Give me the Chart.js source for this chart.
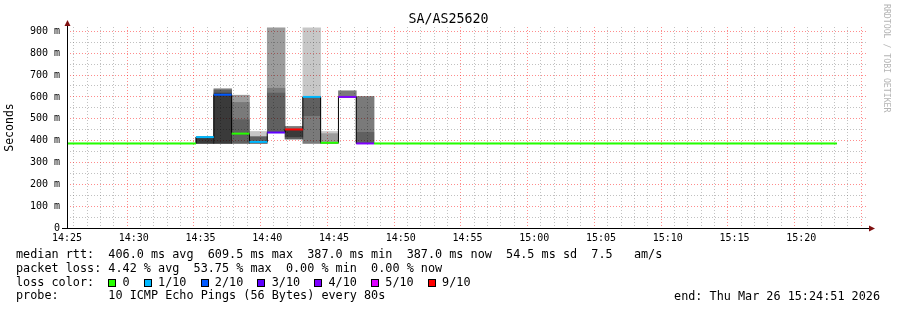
<!DOCTYPE html>
<html>
<head>
<meta charset="utf-8">
<script src="https://cdn.jsdelivr.net/npm/chart.js@4.4.1/dist/chart.umd.min.js"></script>
<style>
  body { margin: 0; background: #fff; }
  #wrap { position: relative; width: 897px; height: 310px; overflow: hidden; }
  #chart { position: absolute; left: 0; top: 0; }
  .mono { font-family: 'DejaVu Sans Mono', monospace; color: #000; position: absolute; white-space: pre; }
  #title { left: 0; width: 897px; text-align: center; top: 11px; font-size: 13.3px; }
  #stats { left: 16px; top: 248px; font-size: 11.8px; line-height: 13.8px; margin: 0; }
  #end { right: 17px; top: 289.5px; font-size: 11.8px; line-height: 13.8px; }
  #mark { left: 882px; top: 4px; font-size: 8.2px; color: #b4b4b4; writing-mode: vertical-rl; }
  .sq { display: inline-block; width: 1ch; height: 1em; position: relative; vertical-align: top; }
  .sq i { position: absolute; left: 0; top: 3px; width: 8px; height: 8px; border: 1px solid #000; box-sizing: border-box; }
</style>
</head>
<body>
<div id="wrap">
  <canvas id="chart" width="897" height="310"></canvas>
  <div id="title" class="mono">SA/AS25620</div>
  <pre id="stats" class="mono"></pre>
  <div id="end" class="mono">end: Thu Mar 26 15:24:51 2026</div>
  <div id="mark" class="mono">RRDTOOL / TOBI OETIKER</div>
</div>
<script>
'use strict';

// one slice = one 80s smokeping step (the flat parts are merged)
let sliceStart = ['14:25:00', '14:34:40', '14:36:00', '14:37:20', '14:38:40', '14:40:00', '14:41:20', '14:42:40', '14:44:00', '14:45:20', '14:46:40', '14:48:00'];
let sliceEnd   = ['14:34:40', '14:36:00', '14:37:20', '14:38:40', '14:40:00', '14:41:20', '14:42:40', '14:44:00', '14:45:20', '14:46:40', '14:48:00', '15:22:40'];
let medianMs   = [387, 416, 610, 432, 394, 437, 451, 600, 390, 600, 387, 387];
let lossTenths = [0, 1, 2, 0, 1, 3, 9, 1, 0, 4, 4, 0];

// smoke bands (ms), outer to inner, each one inside the previous
let smokeBand1 = [null, [387, 416], [387, 637], [387, 608], [387, 442], [437, 916], [407, 465], [387, 916], [387, 442], [600, 628], [387, 602], null];
let smokeBand2 = [null, [387, 416], [387, 637], [387, 608], [387, 418], [437, 916], [407, 465], [387, 600], [387, 432], [600, 628], [387, 602], null];
let smokeBand3 = [null, [387, 416], [387, 637], [387, 575], [387, 418], [437, 640], [407, 465], [387, 600], null, [600, 628], [387, 602], null];
let smokeBand4 = [null, [387, 416], [387, 630], [387, 496], [387, 418], [437, 618], [407, 451], [514, 600], null, null, [387, 438], null];
let smokeBand5 = [null, [387, 416], [387, 618], null, null, null, [417, 451], null, null, null, null, null];

let legendLoss = [0, 1, 2, 3, 4, 5, 9];
let legendLabel = ['0', '1/10', '2/10', '3/10', '4/10', '5/10', '9/10'];
let lossColors = {0: '#26ff00', 1: '#00b8ff', 2: '#0059ff', 3: '#5e00ff', 4: '#7e00ff', 5: '#dd00ff', 9: '#ff0000'};

let yMax = 920;
let stepSec = 80;   // smokeping step
let minorSec = 60;  // minor x grid

// seconds since 14:25:00
function toSec(t){
  let p = t.split(':').map(Number);
  return p[0] * 3600 + p[1] * 60 + p[2] - (14 * 3600 + 25 * 60);
}

function fmtTime(sec){
  let total = 14 * 60 + 25 + Math.round(sec / 60);
  let h = Math.floor(total / 60);
  let m = total % 60;
  return h + ':' + String(m).padStart(2, '0');
}

// legend text under the chart
let stats = document.getElementById('stats');
let lines = [];
lines.push('median rtt:  406.0 ms avg  609.5 ms max  387.0 ms min  387.0 ms now  54.5 ms sd  7.5   am/s');
lines.push('packet loss: 4.42 % avg  53.75 % max  0.00 % min  0.00 % now');
let lossLine = 'loss color:  ';
for (let i = 0; i < legendLoss.length; i++){
  lossLine += '<span class="sq"><i style="background:' + lossColors[legendLoss[i]] + '"></i></span> ' + legendLabel[i];
  if (i < legendLoss.length - 1) lossLine += '  ';
}
lines.push(lossLine);
lines.push('probe:       10 ICMP Echo Pings (56 Bytes) every 80s');
stats.innerHTML = lines.join('\n');

// datasets
function bandData(band){
  let out = [];
  for (let i = 0; i < band.length; i++){
    if (band[i]) out.push({x: (toSec(sliceStart[i]) + toSec(sliceEnd[i])) / 2, y: band[i]});
  }
  return out;
}

let stepLine = [];
for (let i = 0; i < sliceStart.length; i++){
  stepLine.push({x: toSec(sliceStart[i]), y: medianMs[i]});
}
stepLine.push({x: toSec(sliceEnd[sliceEnd.length - 1]), y: medianMs[medianMs.length - 1]});

let colorLine = [];
for (let i = 0; i < sliceStart.length; i++){
  colorLine.push({x: toSec(sliceStart[i]), y: medianMs[i]});
  colorLine.push({x: toSec(sliceEnd[i]), y: medianMs[i]});
  colorLine.push({x: toSec(sliceEnd[i]), y: null});
}

let bands = [smokeBand1, smokeBand2, smokeBand3, smokeBand4, smokeBand5];
let bandAlpha = [0.22, 0.22, 0.22, 0.22, 0.4];

let datasets = [];
datasets.push({
  type: 'line',
  data: colorLine,
  order: 0,
  borderWidth: 2,
  pointRadius: 0,
  spanGaps: false,
  borderCapStyle: 'butt',
  borderColor: '#26ff00',
  segment: {
    borderColor: ctx => lossColors[lossTenths[Math.floor(ctx.p0DataIndex / 3)]]
  }
});
datasets.push({
  type: 'line',
  data: stepLine,
  order: 1,
  stepped: true,
  borderWidth: 1,
  borderColor: '#000',
  pointRadius: 0
});
for (let b = 0; b < bands.length; b++){
  datasets.push({
    type: 'bar',
    data: bandData(bands[b]),
    order: 2 + b,
    grouped: false,
    // chart.js sizes bars on the 60s tick spacing, stretch them to the 80s step
    barPercentage: stepSec / minorSec,
    categoryPercentage: 1,
    borderWidth: 0,
    inflateAmount: 0.3,
    backgroundColor: 'rgba(0,0,0,' + bandAlpha[b] + ')'
  });
}

function gridColor(c, major){
  let minor = 'rgba(100,100,100,0.4)';
  if (!c.tick) return minor;
  return c.tick.value % major === 0 ? 'rgba(255,0,0,0.45)' : minor;
}

// axes lines with the little rrdtool arrows
const axesPlugin = {
  id: 'axes',
  afterDraw(chart){
    let ctx = chart.ctx;
    let a = chart.chartArea;
    let x0 = Math.round(a.left) + 0.5;
    let y0 = Math.round(a.bottom) + 0.5;
    ctx.save();
    ctx.strokeStyle = '#000';
    ctx.lineWidth = 1;
    ctx.beginPath();
    ctx.moveTo(x0, y0);
    ctx.lineTo(x0, a.top - 3);
    ctx.moveTo(a.left - 5, y0);
    ctx.lineTo(a.right + 2, y0);
    ctx.stroke();
    ctx.fillStyle = '#7f1010';
    ctx.beginPath();
    ctx.moveTo(x0 - 3, a.top - 1);
    ctx.lineTo(x0 + 3, a.top - 1);
    ctx.lineTo(x0, a.top - 7);
    ctx.closePath();
    ctx.fill();
    ctx.beginPath();
    ctx.moveTo(a.right + 1, y0 - 3);
    ctx.lineTo(a.right + 1, y0 + 3);
    ctx.lineTo(a.right + 7, y0);
    ctx.closePath();
    ctx.fill();
    ctx.restore();
  }
};

Chart.defaults.font.family = "'DejaVu Sans Mono', monospace";
Chart.defaults.color = '#000';

new Chart(document.getElementById('chart'), {
  type: 'line',
  data: {datasets: datasets},
  options: {
    responsive: false,
    animation: false,
    events: [],
    layout: {padding: {top: 27, right: 29, bottom: 0, left: 0}},
    plugins: {legend: {display: false}, tooltip: {enabled: false}},
    scales: {
      x: {
        type: 'linear',
        min: 0,
        max: 3600,
        offset: false,
        afterFit: s => { s.height = 82; },
        grid: {
          drawTicks: false,
          lineWidth: 1,
          color: c => gridColor(c, 300)
        },
        border: {display: false, dash: [1, 2]},
        ticks: {
          stepSize: minorSec,
          includeBounds: false,
          autoSkip: false,
          maxRotation: 0,
          padding: 4,
          font: {size: 10},
          callback: v => (v % 300 === 0 && v < 3600) ? fmtTime(v) : ''
        }
      },
      y: {
        min: 0,
        max: yMax,
        afterFit: s => { s.width = 67; },
        grid: {
          drawTicks: false,
          lineWidth: 1,
          color: c => gridColor(c, 100)
        },
        border: {display: false, dash: [1, 2]},
        title: {display: true, text: 'Seconds', font: {size: 11.5}, padding: {top: 3, bottom: 0}},
        ticks: {
          stepSize: 50,
          includeBounds: false,
          autoSkip: false,
          padding: 7,
          font: {size: 10},
          callback: v => v % 100 !== 0 ? '' : (v === 0 ? '0' : v + ' m')
        }
      }
    }
  },
  plugins: [axesPlugin]
});
</script>
</body>
</html>
